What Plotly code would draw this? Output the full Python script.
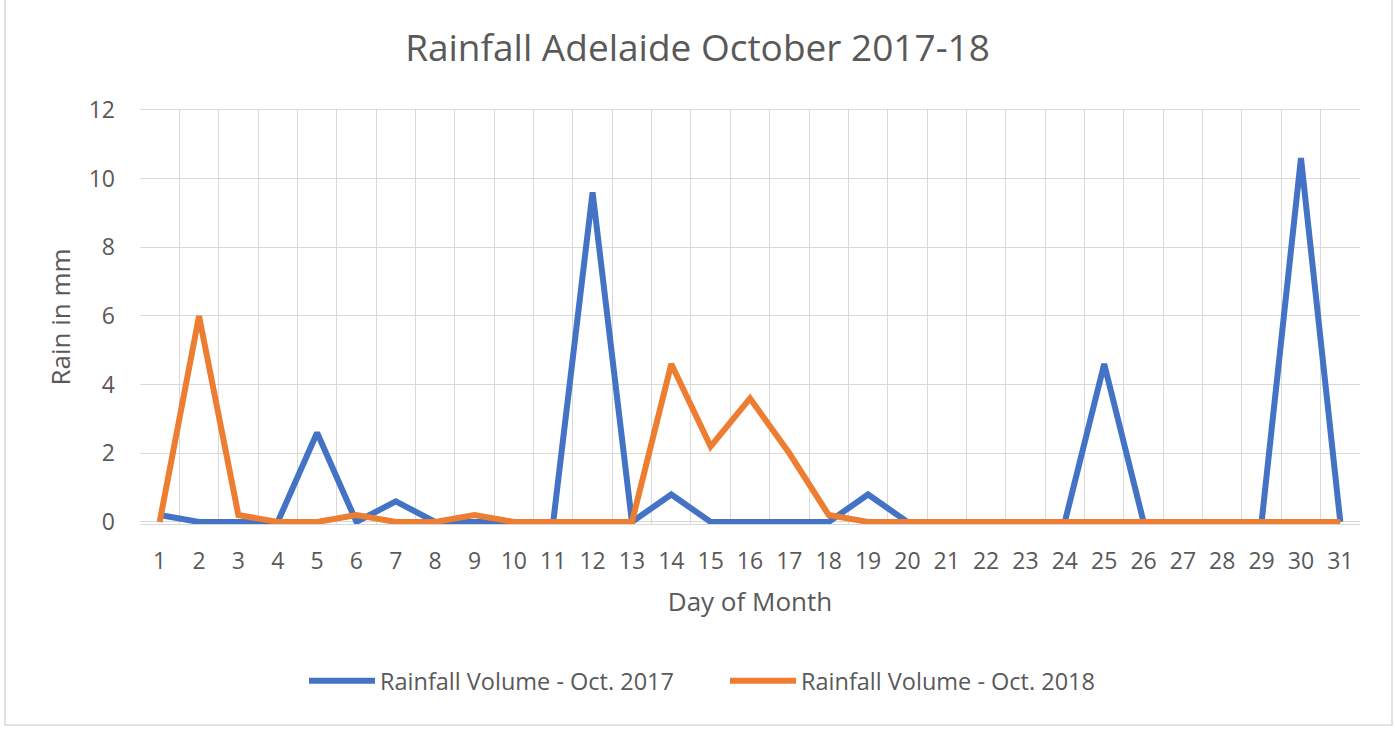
import plotly.graph_objects as go

days = [str(d) for d in range(1, 32)]
rain_2017 = [0.2, 0, 0, 0, 2.6, 0, 0.6, 0, 0, 0,
             0, 9.6, 0, 0.8, 0, 0, 0, 0, 0.8, 0,
             0, 0, 0, 0, 4.6, 0, 0, 0, 0, 10.6, 0]
rain_2018 = [0, 6.0, 0.2, 0, 0, 0.2, 0, 0, 0.2, 0,
             0, 0, 0, 4.6, 2.2, 3.6, 2.0, 0.2, 0, 0,
             0, 0, 0, 0, 0, 0, 0, 0, 0, 0, 0]
y_ticks = [0, 2, 4, 6, 8, 10, 12]

FONT = "Open Sans"
TXT = "#595959"
GRID = "#D9D9D9"

fig = go.Figure()
fig.add_trace(go.Scatter(x=days, y=rain_2017, mode="lines",
                         name="Rainfall Volume - Oct. 2017",
                         line=dict(color="#4472C4", width=6)))
fig.add_trace(go.Scatter(x=days, y=rain_2018, mode="lines",
                         name="Rainfall Volume - Oct. 2018",
                         line=dict(color="#ED7D31", width=6)))

L, R, T, B = 140, 35, 110, 209
W, H = 1395, 733
pw, ph = W - L - R, H - T - B

fig.update_layout(
    width=W, height=H,
    margin=dict(l=L, r=R, t=T, b=B, pad=0),
    paper_bgcolor="white", plot_bgcolor="white",
    font=dict(family=FONT, color=TXT, size=23),
    title=dict(text="Rainfall Adelaide October 2017-18",
               x=0.5, xanchor="center", y=1 - 48 / H, yanchor="middle",
               font=dict(size=37, color=TXT, family=FONT)),
    showlegend=True,
    legend=dict(orientation="h", x=0.5 - 25 / pw, xanchor="center",
                y=(T + ph - 681) / ph, yanchor="middle",
                font=dict(size=23.5, color=TXT), itemwidth=66,
                entrywidth=340, entrywidthmode="pixels",
                bgcolor="rgba(0,0,0,0)"),
    xaxis=dict(type="category", range=[-0.5, 30.5], tickson="boundaries",
               showgrid=True, gridcolor=GRID, gridwidth=1.3, ticks="",
               showline=True, mirror=True, linecolor=GRID, linewidth=1.3,
               ticklabelstandoff=16, tickfont=dict(size=23),
               title=dict(text="Day of Month", standoff=18,
                          font=dict(size=26, color=TXT))),
    yaxis=dict(range=[-0.06, 12], tickvals=y_ticks, showgrid=True,
               gridcolor=GRID, gridwidth=1.3, zeroline=True,
               zerolinecolor=GRID, zerolinewidth=1.3, ticks="",
               showline=False, ticklabelstandoff=24, tickfont=dict(size=23),
               title=dict(text="Rain in mm", standoff=10,
                          font=dict(size=26, color=TXT))),
)

# chart area border
fig.add_shape(type="rect", xref="paper", yref="paper",
              x0=(5 - L) / pw, x1=(1392 - L) / pw,
              y0=(T + ph - 725) / ph, y1=(T + ph + 5) / ph,
              line=dict(color=GRID, width=1.5), fillcolor="rgba(0,0,0,0)",
              layer="below")

fig.write_html("out.html")
